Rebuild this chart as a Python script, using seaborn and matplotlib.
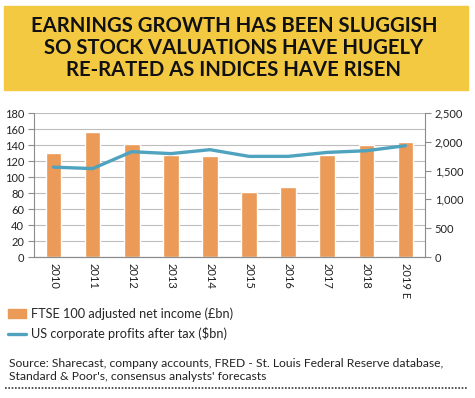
import matplotlib
matplotlib.use("Agg")
import matplotlib.pyplot as plt
import numpy as np
import seaborn as sns
from matplotlib.lines import Line2D
from matplotlib.patches import Patch
from matplotlib.ticker import FuncFormatter

# values
years = ['2010', '2011', '2012', '2013', '2014', '2015', '2016', '2017', '2018', '2019 E']
ftse_income = [130, 156, 141, 128, 126, 81, 88, 127, 140, 144]
us_profits = [1560, 1535, 1828, 1795, 1863, 1747, 1747, 1816, 1845, 1932]

left_ticks = list(range(0, 181, 20))
right_ticks = list(range(0, 2501, 500))

title = "EARNINGS GROWTH HAS BEEN SLUGGISH\nSO STOCK VALUATIONS HAVE HUGELY\nRE-RATED AS INDICES HAVE RISEN"
bar_label = "FTSE 100 adjusted net income (£bn)"
line_label = "US corporate profits after tax ($bn)"
source = ("Source: Sharecast, company accounts, FRED - St. Louis Federal Reserve database,\n"
          "Standard & Poor's, consensus analysts' forecasts")

orange = "#EB9A57"
blue = "#4FA3BF"
grid_grey = "#BDBDBD"
axis_grey = "#8C8C8C"

sns.set_style("white")
plt.rcParams['font.family'] = ['Lato', 'DejaVu Sans']

W, H = 475, 398
fig = plt.figure(figsize=(W / 100, H / 100), dpi=100)
fig.patch.set_facecolor("white")

# yellow title banner
fig.patches.append(plt.Rectangle((4 / W, 1 - 90 / H), 464 / W, 84 / H,
                                 transform=fig.transFigure, color="#F4C942", zorder=0))
fig.text(234 / W, 1 - 48 / H, title, ha="center", va="center", fontsize=14.6,
         fontweight="bold", linespacing=1.12, color="#111111")

ax = fig.add_axes([34 / W, 1 - 257 / H, 391 / W, 144 / H])
sns.barplot(x=years, y=ftse_income, color=orange, width=0.4, saturation=1, ax=ax, zorder=2)
ax.set_ylim(0, 180)
ax.set_yticks(left_ticks)
ax.set_xlim(-0.5, len(years) - 0.5)
ax.yaxis.grid(True, color=grid_grey, linewidth=0.8)
ax.set_axisbelow(True)

ax2 = ax.twinx()
sns.lineplot(x=np.arange(len(years)), y=us_profits, color=blue, linewidth=2.4, ax=ax2)
ax2.set_ylim(0, 2500)
ax2.set_yticks(right_ticks)
ax2.yaxis.set_major_formatter(FuncFormatter(lambda v, p: f"{int(v):,}"))
ax2.set_xlim(-0.5, len(years) - 0.5)

for a in (ax, ax2):
    a.spines["top"].set_visible(False)
    for side in ("left", "right", "bottom"):
        a.spines[side].set_color(axis_grey)
        a.spines[side].set_linewidth(0.8)
    a.tick_params(axis="y", length=4, color=axis_grey, labelsize=8, labelcolor="#222222", pad=3)

ax.spines["right"].set_visible(False)
ax2.spines["left"].set_visible(False)

# category boundaries as tick marks, labels at centres
ax.set_xticks(np.arange(len(years)))
ax.set_xticklabels(years, rotation=-90, fontsize=8, color="#222222")
ax.set_xticks(np.arange(len(years) + 1) - 0.5, minor=True)
ax.tick_params(axis="x", which="major", length=0, pad=4)
ax.tick_params(axis="x", which="minor", length=4, color=axis_grey)
ax.set_xlabel("")

handles = [Patch(color=orange, label=bar_label),
           Line2D([0], [0], color=blue, linewidth=2.4, label=line_label)]
fig.legend(handles=handles, loc="upper left", bbox_to_anchor=(3 / W, 1 - 302 / H),
           frameon=False, fontsize=9.2, handlelength=1.4, handletextpad=0.4,
           labelspacing=0.6, borderaxespad=0)

fig.text(9 / W, 1 - 370 / H, source, ha="left", va="center", fontsize=8.7,
         linespacing=1.25, color="#222222")
fig.add_artist(Line2D([5 / W, 468 / W], [1 - 388 / H, 1 - 388 / H], transform=fig.transFigure,
                      color="#333333", linestyle=(0, (1, 1)), linewidth=1.2))

fig.savefig("out.png", dpi=100)
